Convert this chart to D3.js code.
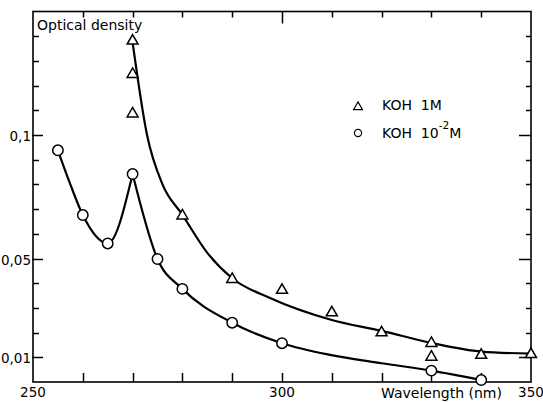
<!DOCTYPE html>
<html>
<head>
<meta charset="utf-8">
<script src="https://cdn.jsdelivr.net/npm/d3@7"></script>
<style>
  body { margin: 0; background: #fff; }
  svg { display: block; font-family: "DejaVu Sans", sans-serif; }
</style>
</head>
<body>
<svg id="chart" width="543" height="402"></svg>
<script>
"use strict";

// measured points, KOH 1M (triangles)
const koh1_wl = [270, 270, 270, 280, 290, 300, 310, 320, 330, 330, 340, 350];
const koh1_od = [0.1385, 0.1250, 0.1090, 0.0677, 0.0420, 0.0376, 0.0285, 0.0204, 0.0161, 0.0105, 0.0113, 0.0116];

// measured points, KOH 10^-2 M (circles)
const koh2_wl = [255, 260, 265, 270, 275, 280, 290, 300, 330, 340];
const koh2_od = [0.0938, 0.0676, 0.0561, 0.0842, 0.0498, 0.0377, 0.0240, 0.0157, 0.0046, 0.0008];

// hand-drawn fitted curves (knots)
const fit1_wl = [270, 272.9, 276, 280, 285, 290, 297.6, 310, 320, 330, 340, 350];
const fit1_od = [0.1375, 0.1000, 0.0800, 0.0677, 0.0523, 0.0420, 0.0340, 0.0251, 0.0207, 0.0158, 0.0123, 0.0115];
const fit2a_wl = [255, 257.5, 260, 265, 270];
const fit2a_od = [0.0938, 0.0800, 0.0676, 0.0561, 0.0842];
const fit2b_wl = [270, 275, 280, 290, 300, 309.6, 320, 330, 340];
const fit2b_od = [0.0842, 0.0498, 0.0377, 0.0240, 0.0157, 0.0110, 0.0076, 0.0046, 0.0008];

const y_ticks = d3.range(1, 15).map(i => i / 100);
const y_labels = {0.01: "0,01", 0.05: "0,05", 0.1: "0,1"};
const x_ticks = d3.range(260, 350, 10);
const x_labels = [250, 300, 350];

const svg = d3.select("#chart");
const m_left = 33, m_right = 531, m_top = 11.5, m_bottom = 382;

const x = d3.scaleLinear().domain([250, 350]).range([m_left, m_right]);
const y = d3.scaleLinear().domain([0, 0.15]).range([m_bottom, m_top]);

const ink = "#000";

// frame
svg.append("rect")
    .attr("x", m_left).attr("y", m_top)
    .attr("width", m_right - m_left).attr("height", m_bottom - m_top)
    .attr("fill", "none").attr("stroke", ink).attr("stroke-width", 1.6);

// y ticks, left and right, pointing inward
for (let v of y_ticks) {
    const major = y_labels[v] !== undefined;
    const yy = Math.round(y(v)) + 0.5;
    svg.append("line")
        .attr("x1", m_left - (major ? 1 : 0)).attr("x2", m_left + (major ? 10 : 6))
        .attr("y1", yy).attr("y2", yy)
        .attr("stroke", ink).attr("stroke-width", 1.5);
    svg.append("line")
        .attr("x1", m_right).attr("x2", m_right - (major ? 12 : 5))
        .attr("y1", yy).attr("y2", yy)
        .attr("stroke", ink).attr("stroke-width", 1.5);
    if (major) {
        svg.append("text")
            .attr("x", m_left - 2).attr("y", yy + 5)
            .attr("text-anchor", "end")
            .attr("font-size", 13.5)
            .attr("fill", ink)
            .text(y_labels[v]);
    }
}

// x ticks, bottom and top, pointing inward
for (let v of x_ticks) {
    const xx = Math.round(x(v)) + 0.5;
    const major = v === 300;
    svg.append("line")
        .attr("x1", xx).attr("x2", xx)
        .attr("y1", m_bottom).attr("y2", m_bottom - 9)
        .attr("stroke", ink).attr("stroke-width", 1.5);
    svg.append("line")
        .attr("x1", xx).attr("x2", xx)
        .attr("y1", m_top).attr("y2", m_top + (major ? 12 : 6))
        .attr("stroke", ink).attr("stroke-width", 1.5);
}
for (let v of x_labels) {
    svg.append("text")
        .attr("x", x(v)).attr("y", 397)
        .attr("text-anchor", "middle")
        .attr("font-size", 13.5)
        .attr("fill", ink)
        .text(v);
}

// axis titles
svg.append("text")
    .attr("x", 37).attr("y", 30)
    .attr("font-size", 14)
    .attr("fill", ink)
    .text("Optical density");
svg.append("text")
    .attr("x", 381).attr("y", 398)
    .attr("font-size", 14)
    .attr("fill", ink)
    .text("Wavelength (nm)");

// curves
const line = d3.line()
    .x(d => x(d[0]))
    .y(d => y(d[1]))
    .curve(d3.curveMonotoneX);

const curves = [
    d3.zip(fit1_wl, fit1_od),
    d3.zip(fit2a_wl, fit2a_od),
    d3.zip(fit2b_wl, fit2b_od)
];
svg.append("g").selectAll("path")
    .data(curves)
    .join("path")
    .attr("d", line)
    .attr("fill", "none")
    .attr("stroke", ink)
    .attr("stroke-width", 2.2)
    .attr("stroke-linejoin", "round");

// markers
const tri = d3.symbol().type(d3.symbolTriangle).size(52);

svg.append("g").selectAll("path")
    .data(d3.zip(koh1_wl, koh1_od))
    .join("path")
    .attr("d", tri)
    .attr("transform", d => `translate(${x(d[0])},${y(d[1]) + 1})`)
    .attr("fill", "#fff")
    .attr("stroke", ink)
    .attr("stroke-width", 1.5);

svg.append("g").selectAll("circle")
    .data(d3.zip(koh2_wl, koh2_od))
    .join("circle")
    .attr("cx", d => x(d[0]))
    .attr("cy", d => y(d[1]))
    .attr("r", 5.2)
    .attr("fill", "#fff")
    .attr("stroke", ink)
    .attr("stroke-width", 1.5);

// legend
const legend = svg.append("g");
legend.append("path")
    .attr("d", d3.symbol().type(d3.symbolTriangle).size(34))
    .attr("transform", "translate(358,107)")
    .attr("fill", "none").attr("stroke", ink).attr("stroke-width", 1.2);
legend.append("circle")
    .attr("cx", 358).attr("cy", 133).attr("r", 3.6)
    .attr("fill", "none").attr("stroke", ink).attr("stroke-width", 1.2);

legend.append("text")
    .attr("x", 382).attr("y", 110)
    .attr("font-size", 14).attr("fill", ink)
    .attr("xml:space", "preserve")
    .text("KOH  1M");
const t2 = legend.append("text")
    .attr("x", 382).attr("y", 138)
    .attr("font-size", 14).attr("fill", ink)
    .attr("xml:space", "preserve");
t2.append("tspan").text("KOH  10");
t2.append("tspan").attr("dy", -9).attr("font-size", 10.5).text("-2");
t2.append("tspan").attr("dy", 9).text("M");
</script>
</body>
</html>
